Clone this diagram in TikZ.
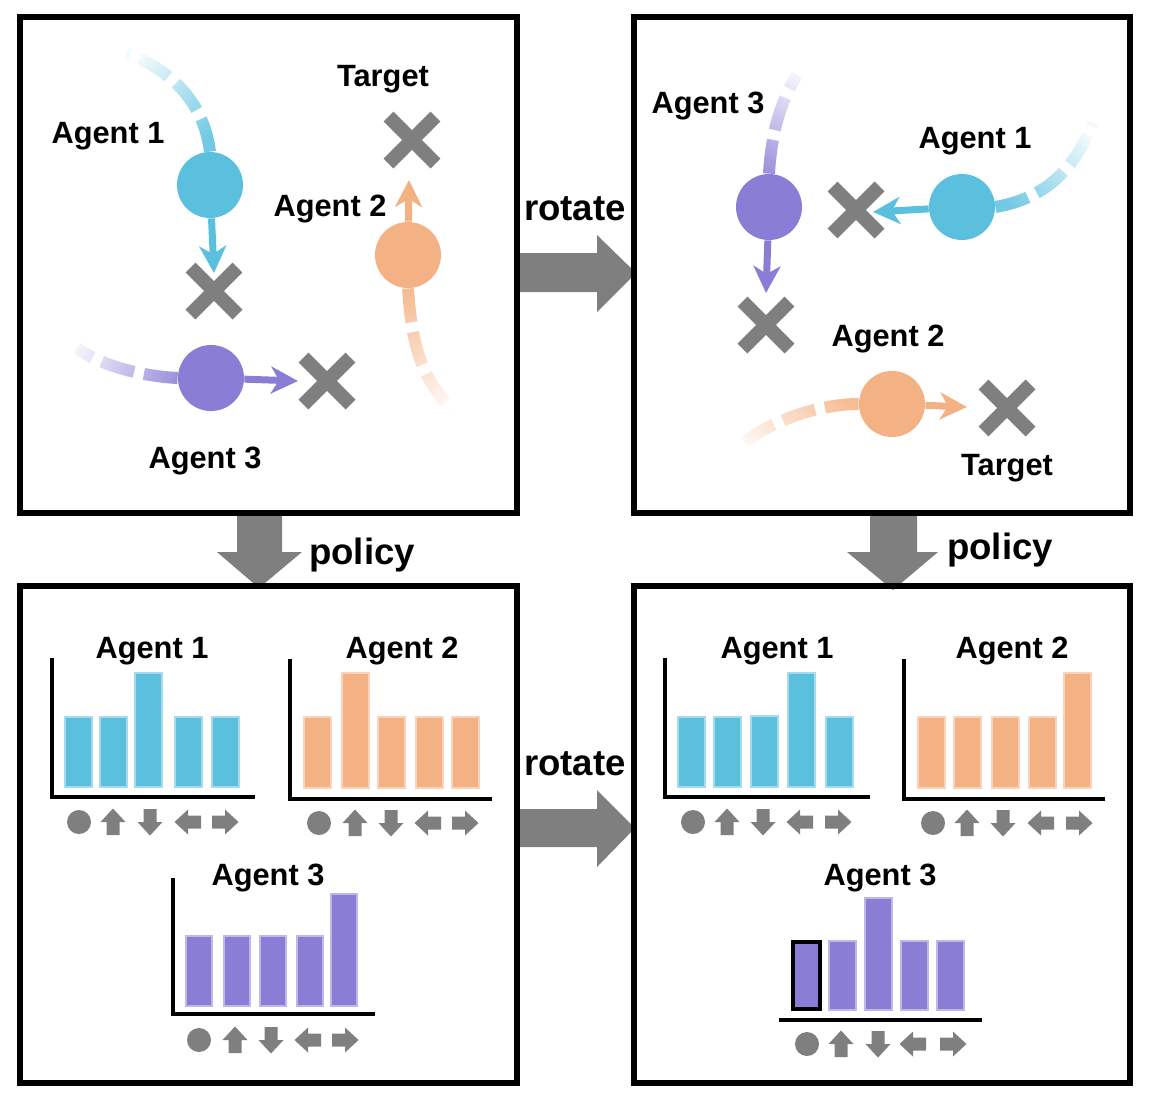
\documentclass[tikz,border=0pt]{standalone}
\usepackage{fontspec}
\setmainfont{Liberation Sans}
\usetikzlibrary{arrows.meta,fadings,shapes.misc}
\definecolor{agentblue}{RGB}{91,192,222}
\definecolor{agentorange}{RGB}{244,177,131}
\definecolor{agentpurple}{RGB}{137,125,214}
\definecolor{markgray}{RGB}{127,127,127}
\tikzfading[name=trailfade, left color=transparent!15, right color=transparent!92]
\tikzset{
    panel/.style = {draw=black, line width=2.75pt},
    label/.style = {font=\bfseries\fontsize{15.4}{18}\selectfont, inner sep=0pt},
    step-label/.style = {font=\bfseries\fontsize{18.3}{21}\selectfont, inner sep=0pt},
    agent/.style = {circle, fill=#1, minimum size=33pt, inner sep=0pt},
    move/.style = {draw=#1, line width=3.5pt, -{Stealth[length=13.5pt, width=13.5pt, inset=4pt]}},
    trail/.style = {draw=#1, line width=6pt, dash pattern=on 17pt off 5pt, path fading=trailfade},
    target/.style = {cross out, draw=markgray, line width=7pt, minimum size=23.5pt, inner sep=0pt, outer sep=0pt},
    bar/.style = {fill=#1, draw=#1!55!white, line width=0.6pt},
    axis/.style = {draw=black, line width=2pt},
    block-arrow/.style = {fill=markgray},
    stay/.pic = {\fill[markgray] (0,0) circle (12);},
    go/.pic = {\fill[markgray] (-13,-6.5) -- (0,-6.5) -- (0,-12.5) -- (13.5,0) -- (0,12.5) -- (0,6.5) -- (-13,6.5) -- cycle;},
}

\begin{document}
\begin{tikzpicture}[x=0.5pt, y=-0.5pt]
\useasboundingbox (0,0) rectangle (1150,1105);

% big arrows between the panels
\fill[block-arrow] (519,253) -- (597,253) -- (597,235) -- (636,273) -- (597,312) -- (597,292) -- (519,292) -- cycle;
\fill[block-arrow] (517,809) -- (597,809) -- (597,790) -- (635,828) -- (597,867) -- (597,847) -- (517,847) -- cycle;
\fill[block-arrow] (237,515) -- (237,552) -- (217,552) -- (259,588) -- (302,552) -- (282,552) -- (282,515) -- cycle;
\fill[block-arrow] (870,515) -- (870,552) -- (847,552) -- (893,590) -- (938,552) -- (917,552) -- (917,515) -- cycle;
\node[step-label] (rot1) at (575,209) {rotate};
\node[step-label] (rot2) at (575,764) {rotate};
\node[step-label] (pol1) at (362,555) {policy};
\node[step-label] (pol2) at (1000,550) {policy};

% panels
\draw[panel] (20,17) rectangle (517,513);
\draw[panel] (634,17) rectangle (1130,513);
\draw[panel] (20,586) rectangle (517,1083);
\draw[panel] (634,586) rectangle (1130,1083);

% top left: original scene
\node[target] (tlx1) at (214,291) {};
\node[target] (tlx2) at (412,140) {};
\node[target] (tlx3) at (327,381) {};
\node[agent=agentblue] (tla1) at (210,185) {};
\node[agent=agentorange] (tla2) at (408,255) {};
\node[agent=agentpurple] (tla3) at (211,378) {};
\draw[trail=agentblue, fading angle=130] (tla1.north) .. controls (204,105) and (175,72) .. (127,53);
\draw[trail=agentorange, fading angle=-75] (tla2.south) .. controls (412,345) and (420,375) .. (452,410);
\draw[trail=agentpurple, fading angle=170] (tla3.west) .. controls (140,376) and (100,365) .. (77,348);
\coordinate (tlt1) at (214,273);
\coordinate (tlt2) at (409,180);
\coordinate (tlt3) at (298,381);
\draw[move=agentblue] (tla1) -- (tlt1);
\draw[move=agentorange] (tla2) -- (tlt2);
\draw[move=agentpurple] (tla3) -- (tlt3);
\node[label] (tll1) at (108,136) {Agent 1};
\node[label] (tll2) at (330,209) {Agent 2};
\node[label] (tll3) at (205,461) {Agent 3};
\node[label] (tllt) at (383,79) {Target};

% top right: rotated scene
\node[target] (trx1) at (856,210) {};
\node[target] (trx2) at (1007,408) {};
\node[target] (trx3) at (766,325) {};
\node[agent=agentblue] (tra1) at (962,207) {};
\node[agent=agentorange] (tra2) at (892,404) {};
\node[agent=agentpurple] (tra3) at (769,207) {};
\draw[trail=agentblue, fading angle=40] (tra1.east) .. controls (1035,200) and (1070,180) .. (1093,123);
\draw[trail=agentorange, fading angle=200] (tra2.west) .. controls (820,404) and (770,420) .. (737,448);
\draw[trail=agentpurple, fading angle=80] (tra3.north) .. controls (771,140) and (778,105) .. (797,75);
\coordinate (trt1) at (873,212);
\coordinate (trt2) at (967,407);
\coordinate (trt3) at (766,293);
\draw[move=agentblue] (tra1) -- (trt1);
\draw[move=agentorange] (tra2) -- (trt2);
\draw[move=agentpurple] (tra3) -- (trt3);
\node[label] (trl1) at (975,141) {Agent 1};
\node[label] (trl2) at (888,339) {Agent 2};
\node[label] (trl3) at (708,106) {Agent 3};
\node[label] (trlt) at (1007,468) {Target};

% bottom left: action distributions
\draw[axis] (52,658) |- (255,797);
\foreach \x/\h in {65/717, 100/717, 135/673, 175/717, 212/717}
    \draw[bar=agentblue] (\x,787) rectangle (\x+27,\h);
\pic at (79,822) {stay};
\foreach \x/\a in {113/90, 150/-90, 188/180, 225/0}
    \pic[rotate=\a] at (\x,822) {go};
\node[label] (bll1) at (152,651) {Agent 1};

\draw[axis] (290,659) |- (492,799);
\foreach \x/\h in {304/717, 342/673, 378/717, 416/717, 452/717}
    \draw[bar=agentorange] (\x,788) rectangle (\x+27,\h);
\pic at (319,823) {stay};
\foreach \x/\a in {355/90, 391/-90, 428/180, 465/0}
    \pic[rotate=\a] at (\x,823) {go};
\node[label] (bll2) at (402,651) {Agent 2};

\draw[axis] (173,878) |- (375,1014);
\foreach \x/\h in {186/936, 224/936, 260/936, 297/936, 331/894}
    \draw[bar=agentpurple] (\x,1006) rectangle (\x+26,\h);
\pic at (199,1040) {stay};
\foreach \x/\a in {235/90, 271/-90, 308/180, 345/0}
    \pic[rotate=\a] at (\x,1040) {go};
\node[label] (bll3) at (268,878) {Agent 3};

% bottom right: action distributions after rotation
\draw[axis] (665,658) |- (870,797);
\foreach \x/\h in {678/717, 714/717, 751/716, 788/673, 826/717}
    \draw[bar=agentblue] (\x,787) rectangle (\x+27,\h);
\pic at (693,822) {stay};
\foreach \x/\a in {727/90, 763/-90, 800/180, 838/0}
    \pic[rotate=\a] at (\x,822) {go};
\node[label] (brl1) at (777,651) {Agent 1};

\draw[axis] (904,659) |- (1105,799);
\foreach \x/\h in {918/717, 954/717, 992/717, 1029/717, 1064/673}
    \draw[bar=agentorange] (\x,788) rectangle (\x+27,\h);
\pic at (933,823) {stay};
\foreach \x/\a in {967/90, 1003/-90, 1041/180, 1079/0}
    \pic[rotate=\a] at (\x,823) {go};
\node[label] (brl2) at (1012,651) {Agent 2};

\draw[axis] (779,1020) -- (982,1020);
\foreach \x/\h in {829/941, 865/898, 901/941, 937/941}
    \draw[bar=agentpurple] (\x,1010) rectangle (\x+27,\h);
\draw[fill=agentpurple, draw=black, line width=2pt] (793,1009) rectangle (820,942);
\pic at (807,1044) {stay};
\foreach \x/\a in {841/90, 878/-90, 913/180, 953/0}
    \pic[rotate=\a] at (\x,1044) {go};
\node[label] (brl3) at (880,878) {Agent 3};
\end{tikzpicture}
\end{document}
